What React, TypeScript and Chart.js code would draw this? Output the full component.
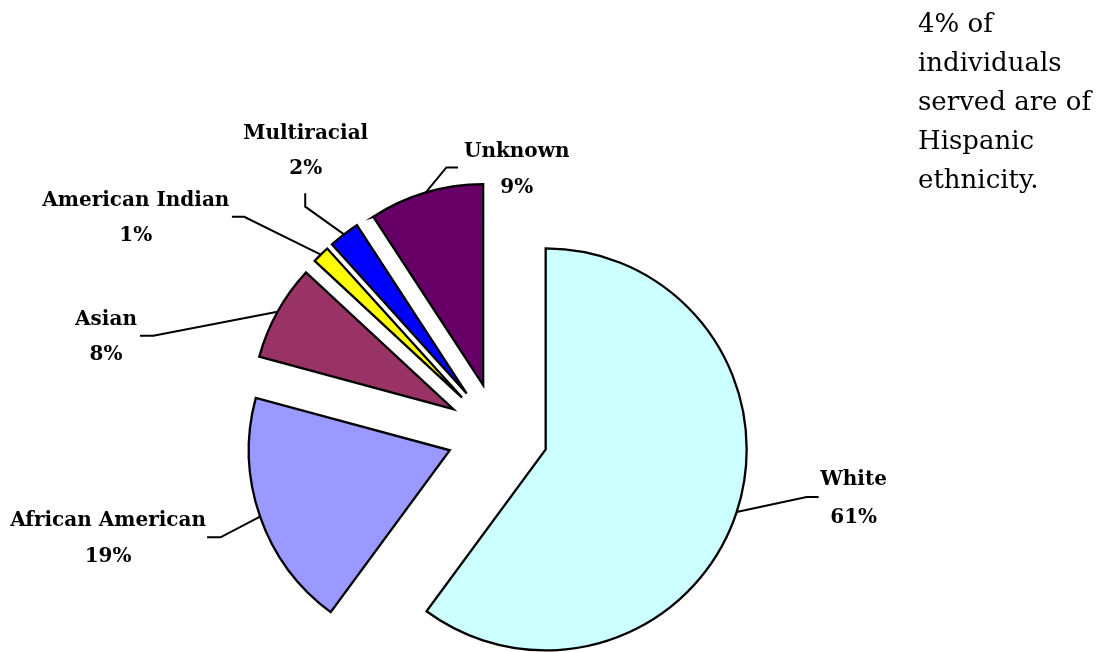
import React, { useEffect, useRef } from 'react';
import { Chart, registerables } from 'chart.js';

Chart.register(...registerables);

// ---- data ----
const categories = ['White', 'African American', 'Asian', 'American Indian', 'Multiracial', 'Unknown'];
const shares = [60.1, 19.1, 7.7, 1.4, 2.5, 9.2];
const shareLabels = ['61%', '19%', '8%', '1%', '2%', '9%'];
const noteLines = ['4% of', 'individuals', 'served are of', 'Hispanic', 'ethnicity.'];

// ---- styles / layout ----
const sliceColors = ['#CCFFFF', '#9999FF', '#993366', '#FFFF00', '#0000FF', '#660066'];
const EXPLODE = 50.6;
const RADIUS = 201;
const LABEL_FONT = 'bold 20px "DejaVu Serif"';
// label layout relative to each slice's outer mid-point: leader elbow, leader end, text centre x / first baseline, line gap
const labelLayout = [
  { elbow: [70, -15], end: [82, -15], text: [117, -27], gap: 38 },
  { elbow: [-39.6, 20.7], end: [-53, 20.7], text: [-152, 9.7], gap: 36 },
  { elbow: [-124.2, 24], end: [-137.5, 24], text: [-171.5, 13.3], gap: 35 },
  { elbow: [-76.6, -37.8], end: [-88.9, -37.8], text: [-185, -48.8], gap: 35 },
  { elbow: [-38.8, -27.7], end: [-38.8, -41], text: [-38.3, -95.4], gap: 35 },
  { elbow: [20.5, -25], end: [32.1, -25], text: [90.8, -35.6], gap: 36.6 },
];

const explodePlugin = {
  id: 'explodeSlices',
  beforeDatasetDraw(chart: any, args: any) {
    const meta = chart.getDatasetMeta(args.index);
    const ctx = chart.ctx;
    meta.data.forEach((arc: any) => {
      const mid = (arc.startAngle + arc.endAngle) / 2;
      ctx.save();
      ctx.translate(Math.cos(mid) * EXPLODE, Math.sin(mid) * EXPLODE);
      arc.draw(ctx);
      ctx.restore();
    });
    return false;
  },
};

const labelPlugin = {
  id: 'sliceLabels',
  afterDraw(chart: any) {
    const meta = chart.getDatasetMeta(0);
    const ctx = chart.ctx;
    ctx.save();
    meta.data.forEach((arc: any, i: number) => {
      const lay = labelLayout[i];
      const mid = (arc.startAngle + arc.endAngle) / 2;
      const cx = arc.x + Math.cos(mid) * EXPLODE;
      const cy = arc.y + Math.sin(mid) * EXPLODE;
      const px = cx + Math.cos(mid) * arc.outerRadius;
      const py = cy + Math.sin(mid) * arc.outerRadius;
      ctx.strokeStyle = '#000';
      ctx.lineWidth = 2;
      ctx.lineJoin = 'miter';
      ctx.beginPath();
      ctx.moveTo(px, py);
      ctx.lineTo(px + lay.elbow[0], py + lay.elbow[1]);
      ctx.lineTo(px + lay.end[0], py + lay.end[1]);
      ctx.stroke();
      ctx.fillStyle = '#000';
      ctx.font = LABEL_FONT;
      ctx.textAlign = 'center';
      ctx.textBaseline = 'alphabetic';
      const tx = px + lay.text[0];
      const ty = py + lay.text[1];
      ctx.fillText(categories[i], tx, ty);
      ctx.fillText(shareLabels[i], tx, ty + lay.gap);
    });
    ctx.restore();
  },
};

export default function App() {
  const canvasRef = useRef<HTMLCanvasElement | null>(null);

  useEffect(() => {
    const canvas = canvasRef.current;
    if (!canvas) return;
    const chart = new Chart(canvas, {
      type: 'pie',
      data: {
        labels: categories,
        datasets: [
          {
            data: shares,
            backgroundColor: sliceColors,
            borderColor: '#000000',
            borderWidth: 2.3,
            borderJoinStyle: 'miter',
            radius: RADIUS,
          } as any,
        ],
      },
      options: {
        animation: false,
        responsive: false,
        devicePixelRatio: 1,
        layout: { padding: { left: 0, right: 102.8, top: 215.2, bottom: 0 } },
        plugins: {
          legend: { display: false },
          tooltip: { enabled: false },
        },
        events: [],
      },
      plugins: [explodePlugin, labelPlugin],
    });
    return () => chart.destroy();
  }, []);

  return (
    <div style={{ position: 'absolute', left: 0, top: 0, width: 1098, height: 652, background: '#fff', overflow: 'hidden' }}>
      <canvas ref={canvasRef} width={1098} height={652} style={{ position: 'absolute', left: 0, top: 0, display: 'block' }} />
      <div
        style={{
          position: 'absolute',
          left: 918,
          top: 4.2,
          fontFamily: '"DejaVu Serif", serif',
          fontSize: 26,
          lineHeight: '39px',
          color: '#000',
          whiteSpace: 'nowrap',
        }}
      >
        {noteLines.map((l, i) => (
          <div key={i}>{l}</div>
        ))}
      </div>
    </div>
  );
}
